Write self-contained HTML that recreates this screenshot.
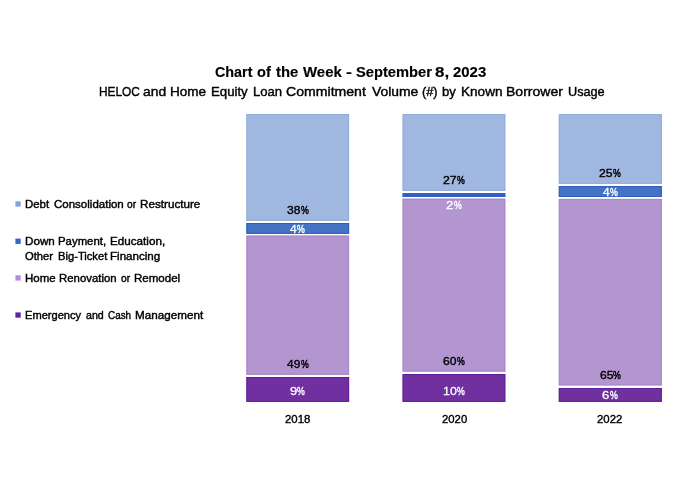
<!DOCTYPE html>
<html><head><meta charset="utf-8">
<style>
html,body{margin:0;padding:0;background:#fff;}
body{width:700px;height:478px;position:relative;overflow:hidden;font-family:"Liberation Sans",sans-serif;color:#111;}
.b{position:absolute;}
.lb{background:#a0b7e0;box-shadow:inset 0 0 0 1px #93acdb;}
.bl{background:#4472c4;box-shadow:inset 0 0 0 1px #2c5cbd;}
.lp{background:#b395d0;box-shadow:inset 0 0 0 1px #a888c9;}
.dp{background:#7030a0;box-shadow:inset 0 0 0 1px #5f1f97;}
.t{position:absolute;white-space:nowrap;line-height:1;transform-origin:0 0;filter:blur(0.4px);}
.v{font-size:11.8px;color:#000;-webkit-text-stroke:0.38px currentColor;}
.w{color:#fff;-webkit-text-stroke:0.28px currentColor;}
.p{-webkit-text-stroke:0.52px currentColor;}
.w.p{-webkit-text-stroke:0.42px currentColor;}
.sw{position:absolute;left:15.3px;width:5.1px;height:5.1px;}
</style></head><body>
<svg class="b" style="left:0;top:0;filter:blur(0.35px)" width="700" height="478" viewBox="0 0 700 478">
<rect x="246.40" y="114.00" width="102.70" height="106.80" fill="#a0b7e0"/>
<rect x="246.90" y="114.50" width="101.70" height="105.80" fill="none" stroke="#93acdb" stroke-width="1"/>
<rect x="246.40" y="223.00" width="102.70" height="10.80" fill="#4472c4"/>
<rect x="246.90" y="223.50" width="101.70" height="9.80" fill="none" stroke="#2c5cbd" stroke-width="1"/>
<rect x="246.40" y="235.60" width="102.70" height="139.20" fill="#b395d0"/>
<rect x="246.90" y="236.10" width="101.70" height="138.20" fill="none" stroke="#a888c9" stroke-width="1"/>
<rect x="246.40" y="377.00" width="102.70" height="24.90" fill="#7030a0"/>
<rect x="246.90" y="377.50" width="101.70" height="23.90" fill="none" stroke="#5f1f97" stroke-width="1"/>
<rect x="402.60" y="114.00" width="102.70" height="76.80" fill="#a0b7e0"/>
<rect x="403.10" y="114.50" width="101.70" height="75.80" fill="none" stroke="#93acdb" stroke-width="1"/>
<rect x="402.60" y="193.10" width="102.70" height="3.90" fill="#4472c4"/>
<rect x="402.60" y="193.10" width="102.70" height="3.90" fill="#3060c0"/>
<rect x="402.60" y="198.70" width="102.70" height="172.90" fill="#b395d0"/>
<rect x="403.10" y="199.20" width="101.70" height="171.90" fill="none" stroke="#a888c9" stroke-width="1"/>
<rect x="402.60" y="374.00" width="102.70" height="27.90" fill="#7030a0"/>
<rect x="403.10" y="374.50" width="101.70" height="26.90" fill="none" stroke="#5f1f97" stroke-width="1"/>
<rect x="558.80" y="114.00" width="103.00" height="69.80" fill="#a0b7e0"/>
<rect x="559.30" y="114.50" width="102.00" height="68.80" fill="none" stroke="#93acdb" stroke-width="1"/>
<rect x="558.80" y="186.10" width="103.00" height="10.90" fill="#4472c4"/>
<rect x="559.30" y="186.60" width="102.00" height="9.90" fill="none" stroke="#2c5cbd" stroke-width="1"/>
<rect x="558.80" y="198.90" width="103.00" height="186.50" fill="#b395d0"/>
<rect x="559.30" y="199.40" width="102.00" height="185.50" fill="none" stroke="#a888c9" stroke-width="1"/>
<rect x="558.80" y="388.00" width="103.00" height="13.80" fill="#7030a0"/>
<rect x="559.30" y="388.50" width="102.00" height="12.80" fill="none" stroke="#5f1f97" stroke-width="1"/>
</svg>
<svg class="b" style="left:0;top:0;filter:blur(0.35px)" width="40" height="478" viewBox="0 0 40 478">
<rect x="15.4" y="201.3" width="5.3" height="5.3" fill="#81a3e1"/>
<rect x="15.4" y="238.6" width="5.3" height="5.3" fill="#3364c8"/>
<rect x="15.4" y="275.3" width="5.3" height="5.3" fill="#b08ddc"/>
<rect x="15.4" y="312.4" width="5.3" height="5.3" fill="#6122a5"/>
</svg>
<div class="t" style="left:215.49px;top:65.05px;font-size:14px;transform:scaleX(1.0235);color:#000;font-weight:bold;-webkit-text-stroke:0.15px currentColor;">Chart</div>
<div class="t" style="left:257.38px;top:65.05px;font-size:14px;transform:scaleX(1.0443);color:#000;font-weight:bold;-webkit-text-stroke:0.15px currentColor;">of</div>
<div class="t" style="left:275.94px;top:65.05px;font-size:14px;transform:scaleX(1.0605);color:#000;font-weight:bold;-webkit-text-stroke:0.15px currentColor;">the</div>
<div class="t" style="left:303.14px;top:65.05px;font-size:14px;transform:scaleX(1.0684);color:#000;font-weight:bold;-webkit-text-stroke:0.15px currentColor;">Week</div>
<div class="t" style="left:346.09px;top:65.05px;font-size:14px;transform:scaleX(1.2639);color:#000;font-weight:bold;-webkit-text-stroke:0.15px currentColor;">-</div>
<div class="t" style="left:355.71px;top:65.05px;font-size:14px;transform:scaleX(1.0481);color:#000;font-weight:bold;-webkit-text-stroke:0.15px currentColor;">September</div>
<div class="t" style="left:435.41px;top:65.05px;font-size:14px;transform:scaleX(1.2102);color:#000;font-weight:bold;-webkit-text-stroke:0.15px currentColor;">8,</div>
<div class="t" style="left:453.27px;top:65.05px;font-size:14px;transform:scaleX(1.0672);color:#000;font-weight:bold;-webkit-text-stroke:0.15px currentColor;">2023</div>
<div class="t" style="left:98.71px;top:85.95px;font-size:12.7px;transform:scaleX(0.9342);color:#000;-webkit-text-stroke:0.4px currentColor;">HELOC</div>
<div class="t" style="left:142.99px;top:85.95px;font-size:12.7px;transform:scaleX(1.0918);color:#000;-webkit-text-stroke:0.4px currentColor;">and</div>
<div class="t" style="left:169.97px;top:85.95px;font-size:12.7px;transform:scaleX(1.0677);color:#000;-webkit-text-stroke:0.4px currentColor;">Home</div>
<div class="t" style="left:211.00px;top:85.95px;font-size:12.7px;transform:scaleX(1.0409);color:#000;-webkit-text-stroke:0.4px currentColor;">Equity</div>
<div class="t" style="left:252.91px;top:85.95px;font-size:12.7px;transform:scaleX(1.0325);color:#000;-webkit-text-stroke:0.4px currentColor;">Loan</div>
<div class="t" style="left:285.67px;top:85.95px;font-size:12.7px;transform:scaleX(1.1108);color:#000;-webkit-text-stroke:0.4px currentColor;">Commitment</div>
<div class="t" style="left:371.99px;top:85.95px;font-size:12.7px;transform:scaleX(1.0947);color:#000;-webkit-text-stroke:0.4px currentColor;">Volume</div>
<div class="t" style="left:421.88px;top:85.95px;font-size:12.7px;transform:scaleX(1.0077);color:#000;-webkit-text-stroke:0.4px currentColor;">(#)</div>
<div class="t" style="left:442.02px;top:85.95px;font-size:12.7px;transform:scaleX(1.0307);color:#000;-webkit-text-stroke:0.4px currentColor;">by</div>
<div class="t" style="left:460.57px;top:85.95px;font-size:12.7px;transform:scaleX(1.0697);color:#000;-webkit-text-stroke:0.4px currentColor;">Known</div>
<div class="t" style="left:506.23px;top:85.95px;font-size:12.7px;transform:scaleX(1.1065);color:#000;-webkit-text-stroke:0.4px currentColor;">Borrower</div>
<div class="t" style="left:567.69px;top:85.95px;font-size:12.7px;transform:scaleX(1.0001);color:#000;-webkit-text-stroke:0.4px currentColor;">Usage</div>
<div class="t" style="left:25.12px;top:198.81px;font-size:10.5px;transform:scaleX(1.0864);color:#000;-webkit-text-stroke:0.4px currentColor;">Debt</div>
<div class="t" style="left:53.69px;top:198.81px;font-size:10.5px;transform:scaleX(1.0962);color:#000;-webkit-text-stroke:0.4px currentColor;">Consolidation</div>
<div class="t" style="left:127.35px;top:198.81px;font-size:10.5px;transform:scaleX(0.9671);color:#000;-webkit-text-stroke:0.4px currentColor;">or</div>
<div class="t" style="left:140.40px;top:198.81px;font-size:10.5px;transform:scaleX(1.1118);color:#000;-webkit-text-stroke:0.4px currentColor;">Restructure</div>
<div class="t" style="left:25.10px;top:235.91px;font-size:10.5px;transform:scaleX(1.1083);color:#000;-webkit-text-stroke:0.4px currentColor;">Down</div>
<div class="t" style="left:58.02px;top:235.91px;font-size:10.5px;transform:scaleX(1.0849);color:#000;-webkit-text-stroke:0.4px currentColor;">Payment,</div>
<div class="t" style="left:109.69px;top:235.91px;font-size:10.5px;transform:scaleX(1.1118);color:#000;-webkit-text-stroke:0.4px currentColor;">Education,</div>
<div class="t" style="left:25.16px;top:251.21px;font-size:10.5px;transform:scaleX(1.0638);color:#000;-webkit-text-stroke:0.4px currentColor;">Other</div>
<div class="t" style="left:58.04px;top:251.21px;font-size:10.5px;transform:scaleX(1.0646);color:#000;-webkit-text-stroke:0.4px currentColor;">Big-Ticket</div>
<div class="t" style="left:110.40px;top:251.21px;font-size:10.5px;transform:scaleX(1.1013);color:#000;-webkit-text-stroke:0.4px currentColor;">Financing</div>
<div class="t" style="left:25.11px;top:272.71px;font-size:10.5px;transform:scaleX(1.0929);color:#000;-webkit-text-stroke:0.4px currentColor;">Home</div>
<div class="t" style="left:59.02px;top:272.71px;font-size:10.5px;transform:scaleX(1.0846);color:#000;-webkit-text-stroke:0.4px currentColor;">Renovation</div>
<div class="t" style="left:121.25px;top:272.71px;font-size:10.5px;transform:scaleX(0.9784);color:#000;-webkit-text-stroke:0.4px currentColor;">or</div>
<div class="t" style="left:134.41px;top:272.71px;font-size:10.5px;transform:scaleX(1.0991);color:#000;-webkit-text-stroke:0.4px currentColor;">Remodel</div>
<div class="t" style="left:25.14px;top:310.01px;font-size:10.5px;transform:scaleX(1.0564);color:#000;-webkit-text-stroke:0.4px currentColor;">Emergency</div>
<div class="t" style="left:85.63px;top:310.01px;font-size:10.5px;transform:scaleX(1.0134);color:#000;-webkit-text-stroke:0.4px currentColor;">and</div>
<div class="t" style="left:108.07px;top:310.01px;font-size:10.5px;transform:scaleX(0.9413);color:#000;-webkit-text-stroke:0.4px currentColor;">Cash</div>
<div class="t" style="left:134.70px;top:310.01px;font-size:10.5px;transform:scaleX(1.1115);color:#000;-webkit-text-stroke:0.4px currentColor;">Management</div>
<div class="t v" style="left:287.44px;top:205.04px;transform:scaleX(1.0235)">38</div>
<div class="t v p" style="left:301.05px;top:205.04px;transform:scaleX(0.7423)">%</div>
<div class="t v w" style="left:290.30px;top:223.74px;transform:scaleX(1.0167)">4</div>
<div class="t v w p" style="left:297.35px;top:223.74px;transform:scaleX(0.7423)">%</div>
<div class="t v" style="left:287.40px;top:358.84px;transform:scaleX(1.0111)">49</div>
<div class="t v p" style="left:300.85px;top:358.84px;transform:scaleX(0.7423)">%</div>
<div class="t v w" style="left:289.94px;top:386.24px;transform:scaleX(1.1091)">9</div>
<div class="t v w p" style="left:297.35px;top:386.24px;transform:scaleX(0.7423)">%</div>
<div class="t v" style="left:443.18px;top:174.74px;transform:scaleX(1.0406)">27</div>
<div class="t v p" style="left:456.95px;top:174.74px;transform:scaleX(0.7423)">%</div>
<div class="t v w" style="left:446.33px;top:199.84px;transform:scaleX(1.1193)">2</div>
<div class="t v w p" style="left:453.75px;top:199.84px;transform:scaleX(0.7423)">%</div>
<div class="t v" style="left:443.28px;top:355.74px;transform:scaleX(1.0277)">60</div>
<div class="t v p" style="left:457.05px;top:355.74px;transform:scaleX(0.7423)">%</div>
<div class="t v w" style="left:443.15px;top:386.04px;transform:scaleX(1.0537)">10</div>
<div class="t v w p" style="left:457.25px;top:386.04px;transform:scaleX(0.7423)">%</div>
<div class="t v" style="left:599.38px;top:167.64px;transform:scaleX(1.0320)">25</div>
<div class="t v p" style="left:613.15px;top:167.64px;transform:scaleX(0.7423)">%</div>
<div class="t v w" style="left:602.70px;top:186.64px;transform:scaleX(1.0167)">4</div>
<div class="t v w p" style="left:609.75px;top:186.64px;transform:scaleX(0.7423)">%</div>
<div class="t v" style="left:599.68px;top:370.04px;transform:scaleX(1.0320)">65</div>
<div class="t v p" style="left:613.45px;top:370.04px;transform:scaleX(0.7423)">%</div>
<div class="t v w" style="left:602.44px;top:390.34px;transform:scaleX(1.1091)">6</div>
<div class="t v w p" style="left:609.85px;top:390.34px;transform:scaleX(0.7423)">%</div>
<div class="t v" style="left:285.22px;top:414.14px;transform:scaleX(0.9648)">2018</div>
<div class="t v" style="left:441.52px;top:414.24px;transform:scaleX(0.9609)">2020</div>
<div class="t v" style="left:597.32px;top:413.94px;transform:scaleX(0.9667)">2022</div>
</body></html>
